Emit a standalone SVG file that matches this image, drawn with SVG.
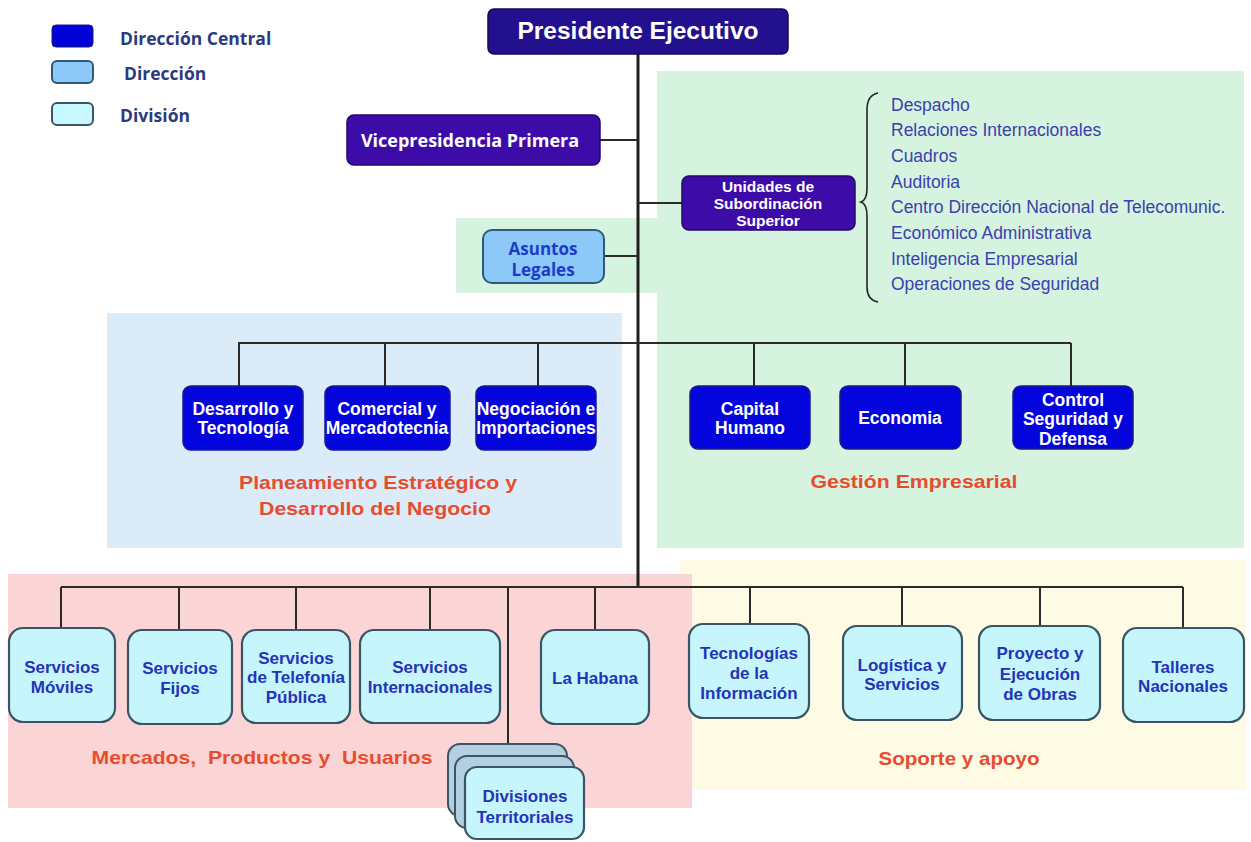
<svg xmlns="http://www.w3.org/2000/svg" width="1251" height="842" viewBox="0 0 1251 842">
<style>
.lbl{font-family:"Liberation Sans",Arial,sans-serif;font-weight:bold;text-anchor:middle;dominant-baseline:central}
.w{fill:#ffffff}
.b{fill:#2433b8}
.sec{fill:#e84c2e;font-size:19px}
.os{font-family:"Open Sans","Liberation Sans",sans-serif;font-weight:bold;dominant-baseline:central}
.leg{fill:#2b3a7e;font-size:17.5px}
.list{font-family:"Liberation Sans",Arial,sans-serif;font-size:17.5px;fill:#3b40b0;dominant-baseline:central}
.dc{fill:#0404dc;stroke:#1a1a8a;stroke-width:1.5}
.top{fill:#22108e;stroke:#140860;stroke-width:1.5}
.vp{fill:#3d0ca8;stroke:#24066e;stroke-width:1.5}
.dir{fill:#8cc8f8;stroke:#2e5a78;stroke-width:2}
.div{fill:#c6f6fc;stroke:#3a5565;stroke-width:2.2}
.div2{fill:#b4cfe0;stroke:#3a5565;stroke-width:2}
.ln{stroke:#2a2a2a;stroke-width:2;fill:none}
</style>

<!-- background areas -->
<g id="areas">
<rect x="657" y="71" width="587" height="477" fill="#d6f3e0"/>
<rect x="456" y="218" width="201" height="75" fill="#d6f3e0"/>
<rect x="107" y="313" width="515" height="235" fill="#dcebf8"/>
<rect x="680" y="560" width="566" height="230" fill="#fdfbe4"/>
<rect x="8" y="574" width="684" height="234" fill="#fbd5d5"/>
</g>

<!-- legend -->
<g id="legend">
<rect x="52" y="25" width="41" height="22" rx="4" fill="#0000d8" stroke="#1a1a7a" stroke-width="1"/>
<rect x="52" y="61" width="41" height="22" rx="5" class="dir"/>
<rect x="52" y="103" width="41" height="22" rx="5" fill="#c8f8ff" stroke="#3a5565" stroke-width="2"/>
<text x="120" y="38" class="os leg">Dirección Central</text>
<text x="124" y="73" class="os leg">Dirección</text>
<text x="120" y="115" class="os leg">División</text>
</g>

<!-- connectors -->
<g id="connectors">
<line x1="638" y1="54" x2="638" y2="587" stroke="#1e1e1e" stroke-width="3"/>
<line x1="600" y1="140" x2="638" y2="140" class="ln"/>
<line x1="638" y1="203" x2="682" y2="203" class="ln"/>
<line x1="604" y1="256" x2="638" y2="256" class="ln"/>
<!-- level 2 -->
<line x1="238" y1="343" x2="1071" y2="343" class="ln"/>
<line x1="239" y1="343" x2="239" y2="386" class="ln"/>
<line x1="385" y1="343" x2="385" y2="386" class="ln"/>
<line x1="538" y1="343" x2="538" y2="386" class="ln"/>
<line x1="754" y1="343" x2="754" y2="386" class="ln"/>
<line x1="905" y1="343" x2="905" y2="386" class="ln"/>
<line x1="1071" y1="343" x2="1071" y2="386" class="ln"/>
<!-- level 3 -->
<line x1="61" y1="587" x2="1183" y2="587" class="ln"/>
<line x1="61" y1="587" x2="61" y2="628" class="ln"/>
<line x1="179" y1="587" x2="179" y2="630" class="ln"/>
<line x1="296" y1="587" x2="296" y2="630" class="ln"/>
<line x1="430" y1="587" x2="430" y2="630" class="ln"/>
<line x1="508" y1="587" x2="508" y2="744" class="ln"/>
<line x1="595" y1="587" x2="595" y2="630" class="ln"/>
<line x1="750" y1="587" x2="750" y2="624" class="ln"/>
<line x1="902" y1="587" x2="902" y2="626" class="ln"/>
<line x1="1040" y1="587" x2="1040" y2="626" class="ln"/>
<line x1="1183" y1="587" x2="1183" y2="628" class="ln"/>
<!-- brace -->
<path d="M878,93 Q867,95 867,110 L867,188 Q867,200 861,202 Q867,204 867,216 L867,287 Q867,300 878,302" fill="none" stroke="#222" stroke-width="1.6"/>
</g>

<g id="presidente">
<rect x="488" y="9" width="300" height="45" rx="6" class="top"/>
<text x="638" y="30" class="lbl w" font-size="24.5">Presidente Ejecutivo</text>
</g>

<g id="vicepresidencia">
<rect x="347" y="115" width="253" height="50" rx="7" class="vp"/>
<text x="470" y="140" class="os w" font-size="18" text-anchor="middle">Vicepresidencia Primera</text>
</g>

<g id="unidades">
<rect x="682" y="176" width="173" height="54" rx="7" class="vp"/>
<text class="lbl w" font-size="15.5"><tspan x="768" y="186">Unidades de</tspan><tspan x="768" y="203">Subordinación</tspan><tspan x="768" y="220">Superior</tspan></text>
</g>

<g id="lista-unidades">
<text x="891" y="105" class="list">Despacho</text>
<text x="891" y="130" class="list">Relaciones Internacionales</text>
<text x="891" y="156" class="list">Cuadros</text>
<text x="891" y="182" class="list">Auditoria</text>
<text x="891" y="207" class="list">Centro Dirección Nacional de Telecomunic.</text>
<text x="891" y="233" class="list">Económico Administrativa</text>
<text x="891" y="259" class="list">Inteligencia Empresarial</text>
<text x="891" y="284" class="list">Operaciones de Seguridad</text>
</g>

<g id="asuntos-legales">
<rect x="483" y="230" width="121" height="53" rx="9" class="dir"/>
<text class="os" font-size="17" fill="#1c3cc8" text-anchor="middle"><tspan x="543" y="248">Asuntos</tspan><tspan x="543" y="269">Legales</tspan></text>
</g>

<!-- level 2 nodes -->
<g id="desarrollo-tecnologia">
<rect x="183" y="386" width="120" height="64" rx="8" class="dc"/>
<text class="lbl w" font-size="17.5"><tspan x="243" y="409">Desarrollo y</tspan><tspan x="243" y="428">Tecnología</tspan></text>
</g>
<g id="comercial-mercadotecnia">
<rect x="325" y="386" width="125" height="64" rx="8" class="dc"/>
<text class="lbl w" font-size="17.5"><tspan x="387" y="409">Comercial y</tspan><tspan x="387" y="428">Mercadotecnia</tspan></text>
</g>
<g id="negociacion-importaciones">
<rect x="476" y="386" width="120" height="64" rx="8" class="dc"/>
<text class="lbl w" font-size="17.5"><tspan x="536" y="409">Negociación e</tspan><tspan x="536" y="428">Importaciones</tspan></text>
</g>
<g id="capital-humano">
<rect x="690" y="386" width="120" height="63" rx="8" class="dc"/>
<text class="lbl w" font-size="17.5"><tspan x="750" y="409">Capital</tspan><tspan x="750" y="428">Humano</tspan></text>
</g>
<g id="economia">
<rect x="840" y="386" width="121" height="63" rx="8" class="dc"/>
<text x="900" y="418" class="lbl w" font-size="17.5">Economia</text>
</g>
<g id="control-seguridad-defensa">
<rect x="1013" y="386" width="120" height="63" rx="8" class="dc"/>
<text class="lbl w" font-size="17.5"><tspan x="1073" y="400">Control</tspan><tspan x="1073" y="419">Seguridad y</tspan><tspan x="1073" y="439">Defensa</tspan></text>
</g>

<!-- section labels -->
<g id="labels">
<text class="lbl sec"><tspan x="378" y="482" textLength="278" lengthAdjust="spacingAndGlyphs">Planeamiento Estratégico y</tspan><tspan x="375" y="508" textLength="232" lengthAdjust="spacingAndGlyphs">Desarrollo del Negocio</tspan></text>
<text x="914" y="481" class="lbl sec" textLength="207" lengthAdjust="spacingAndGlyphs">Gestión Empresarial</text>
<text x="262" y="757" class="lbl sec" xml:space="preserve" textLength="341" lengthAdjust="spacingAndGlyphs">Mercados,  Productos y  Usuarios</text>
<text x="959" y="758" class="lbl sec" textLength="161" lengthAdjust="spacingAndGlyphs">Soporte y apoyo</text>
</g>

<!-- level 3 nodes -->
<g id="servicios-moviles">
<rect x="9" y="628" width="106" height="94" rx="14" class="div"/>
<text class="lbl b" font-size="17"><tspan x="62" y="667">Servicios</tspan><tspan x="62" y="687">Móviles</tspan></text>
</g>
<g id="servicios-fijos">
<rect x="128" y="630" width="104" height="94" rx="14" class="div"/>
<text class="lbl b" font-size="17"><tspan x="180" y="668">Servicios</tspan><tspan x="180" y="688">Fijos</tspan></text>
</g>
<g id="servicios-telefonia-publica">
<rect x="242" y="630" width="108" height="93" rx="14" class="div"/>
<text class="lbl b" font-size="17"><tspan x="296" y="658">Servicios</tspan><tspan x="296" y="677">de Telefonía</tspan><tspan x="296" y="697">Pública</tspan></text>
</g>
<g id="servicios-internacionales">
<rect x="360" y="630" width="140" height="93" rx="14" class="div"/>
<text class="lbl b" font-size="17"><tspan x="430" y="667">Servicios</tspan><tspan x="430" y="687">Internacionales</tspan></text>
</g>
<g id="la-habana">
<rect x="541" y="630" width="108" height="94" rx="14" class="div"/>
<text x="595" y="678" class="lbl b" font-size="17">La Habana</text>
</g>
<g id="divisiones-territoriales">
<rect x="448" y="744" width="119" height="72" rx="12" class="div2"/>
<rect x="455" y="756" width="119" height="72" rx="12" class="div2"/>
<rect x="465" y="767" width="119" height="72" rx="12" class="div"/>
<text class="lbl b" font-size="17"><tspan x="525" y="796">Divisiones</tspan><tspan x="525" y="817">Territoriales</tspan></text>
</g>
<g id="tecnologias-informacion">
<rect x="689" y="624" width="120" height="94" rx="14" class="div"/>
<text class="lbl b" font-size="17"><tspan x="749" y="653">Tecnologías</tspan><tspan x="749" y="673">de la</tspan><tspan x="749" y="693">Información</tspan></text>
</g>
<g id="logistica-servicios">
<rect x="843" y="626" width="119" height="94" rx="14" class="div"/>
<text class="lbl b" font-size="17"><tspan x="902" y="665">Logística y</tspan><tspan x="902" y="684">Servicios</tspan></text>
</g>
<g id="proyecto-ejecucion-obras">
<rect x="979" y="626" width="121" height="94" rx="14" class="div"/>
<text class="lbl b" font-size="17"><tspan x="1040" y="653">Proyecto y</tspan><tspan x="1040" y="674">Ejecución</tspan><tspan x="1040" y="694">de Obras</tspan></text>
</g>
<g id="talleres-nacionales">
<rect x="1123" y="628" width="121" height="94" rx="14" class="div"/>
<text class="lbl b" font-size="17"><tspan x="1183" y="667">Talleres</tspan><tspan x="1183" y="686">Nacionales</tspan></text>
</g>
</svg>
